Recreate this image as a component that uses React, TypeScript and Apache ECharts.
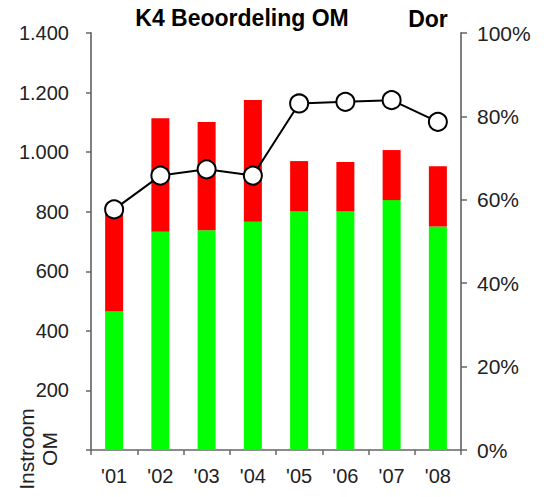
import React, { useEffect, useRef } from "react";
import * as echarts from "echarts";

const categories = ["'01", "'02", "'03", "'04", "'05", "'06", "'07", "'08"];
const greenValues = [465, 733, 738, 766, 802, 802, 839, 750];
const redValues = [335, 381, 363, 409, 168, 165, 168, 203];
const percentValues = [57.7, 65.8, 67.3, 65.8, 83.1, 83.5, 83.9, 78.7];
const titleText = "K4 Beoordeling OM";
const subTitleText = "Dor";
const axisNameText = "Instroom\nOM";

const FONT = "'Liberation Sans', Arial, sans-serif";

export default function App() {
  const ref = useRef<HTMLDivElement>(null);
  useEffect(() => {
    document.body.style.margin = "0";
    if (!ref.current) return;
    const chart = echarts.init(ref.current, null, { renderer: "svg" });
    const axisLine = { show: true, lineStyle: { color: "#808080", width: 2 } };
    chart.setOption({
      animation: false,
      backgroundColor: "#ffffff",
      textStyle: { fontFamily: FONT },
      grid: { left: 91, right: 88, top: 33, bottom: 47, containLabel: false },
      graphic: [
        {
          type: "text",
          x: 242,
          y: 18,
          style: {
            text: titleText,
            fontFamily: FONT,
            fontSize: 23,
            fontWeight: "bold",
            fill: "#000",
            align: "center",
            verticalAlign: "middle",
          },
        },
        {
          type: "text",
          x: 428,
          y: 19,
          style: {
            text: subTitleText,
            fontFamily: FONT,
            fontSize: 23,
            fontWeight: "bold",
            fill: "#000",
            align: "center",
            verticalAlign: "middle",
          },
        },
        {
          type: "text",
          x: 38,
          y: 449,
          rotation: Math.PI / 2,
          style: {
            text: axisNameText,
            fontFamily: FONT,
            fontSize: 21,
            lineHeight: 23,
            fill: "#222",
            align: "center",
            verticalAlign: "middle",
          },
        },
      ],
      xAxis: {
        type: "category",
        data: categories,
        boundaryGap: true,
        axisLine: { show: true, lineStyle: { color: "#666", width: 1.5 } },
        axisTick: { show: true, length: 5, lineStyle: { color: "#666", width: 1.5 } },
        axisLabel: { color: "#222", fontSize: 20, fontFamily: FONT, margin: 16 },
        splitLine: { show: false },
      },
      yAxis: [
        {
          type: "value",
          min: 0,
          max: 1400,
          interval: 200,
          position: "left",
          axisLine,
          axisTick: { show: true, length: 5, lineStyle: { color: "#666", width: 1.5 } },
          axisLabel: {
            color: "#222",
            fontSize: 20,
            fontFamily: FONT,
            margin: 22,
            formatter: (v: number) =>
              v === 0
                ? ""
                : v >= 1000
                ? Math.floor(v / 1000) + "." + String(v % 1000).padStart(3, "0")
                : String(v),
          },
          splitLine: { show: false },
        },
        {
          type: "value",
          min: 0,
          max: 100,
          interval: 20,
          position: "right",
          axisLine,
          axisTick: { show: true, length: 6, lineStyle: { color: "#666", width: 1.5 } },
          axisLabel: {
            color: "#222",
            fontSize: 21,
            fontFamily: FONT,
            margin: 16,
            formatter: "{value}%",
          },
          splitLine: { show: false },
        },
      ],
      series: [
        {
          type: "bar",
          stack: "total",
          data: greenValues,
          barWidth: 18,
          itemStyle: { color: "#00ff00" },
          yAxisIndex: 0,
        },
        {
          type: "bar",
          stack: "total",
          data: redValues,
          barWidth: 18,
          itemStyle: { color: "#ff0000" },
          yAxisIndex: 0,
        },
        {
          type: "line",
          data: percentValues,
          yAxisIndex: 1,
          symbol: "circle",
          symbolSize: 18,
          lineStyle: { color: "#000", width: 2 },
          itemStyle: { color: "#fff", borderColor: "#000", borderWidth: 2 },
          z: 5,
        },
      ],
    });
    return () => chart.dispose();
  }, []);
  return <div ref={ref} style={{ width: 549, height: 497 }} />;
}
